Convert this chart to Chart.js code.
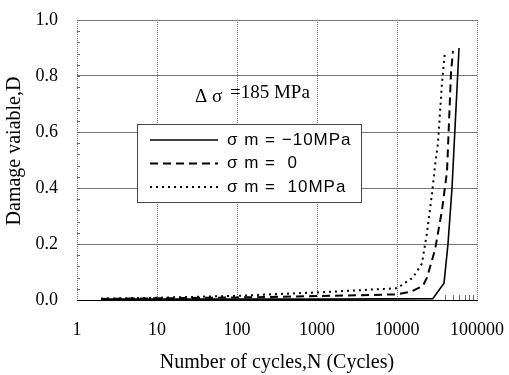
<!DOCTYPE html>
<html>
<head>
<meta charset="utf-8">
<script src="https://cdn.jsdelivr.net/npm/chart.js@4"></script>
<style>
  body { margin: 0; background: #fff; }
</style>
</head>
<body>
<canvas id="chart" width="509" height="375"></canvas>
<script>
// Damage variable vs number of cycles, three mean stresses
const seriesLabels = ["σ m = −10MPa", "σ m =  0", "σ m =  10MPa"]

const cyclesNeg10 = [2, 10, 100, 1000, 10000, 28000, 38700, 43400, 48700, 59600]
const damageNeg10 = [0.003, 0.003, 0.003, 0.003, 0.004, 0.005, 0.06, 0.2, 0.4, 0.9]

const cyclesZero = [2, 10, 100, 1000, 10000, 15000, 21000, 23700, 29900, 36500, 42200, 47300, 50100]
const damageZero = [0.004, 0.006, 0.009, 0.014, 0.02, 0.03, 0.05, 0.08, 0.18, 0.32, 0.46, 0.81, 0.89]

const cyclesPos10 = [2, 10, 100, 1000, 10000, 15800, 20500, 23700, 27400, 29900, 32500, 36500, 39800]
const damagePos10 = [0.005, 0.008, 0.015, 0.027, 0.042, 0.08, 0.13, 0.24, 0.38, 0.48, 0.56, 0.775, 0.89]

const xTickValues = [1, 10, 100, 1000, 10000, 100000]
const xTickLabels = ["1", "10", "100", "1000", "10000", "100000"]
const yTickLabels = ["0.0", "0.2", "0.4", "0.6", "0.8", "1.0"]
const yTitle = "Damage vaiable,D"

const toPoints = (xs, ys) => xs.map((x, i) => ({x: x, y: ys[i]}))

// legend box, stress range note, y title and minor ticks
const extrasPlugin = {
    id: "extras",
    afterDatasetsDraw(chart) {
        const ctx = chart.ctx
        const xs = chart.scales.x
        const ys = chart.scales.y
        ctx.save()
        // minor ticks on left axis
        ctx.strokeStyle = "#666"
        ctx.lineWidth = 1
        for (let v = 0.04; v < 1; v += 0.04) {
            const y = Math.round(ys.getPixelForValue(v)) + 0.5
            ctx.beginPath()
            ctx.moveTo(xs.left, y)
            ctx.lineTo(xs.left + 3, y)
            ctx.stroke()
        }
        // minor ticks on bottom axis near the right end
        for (let v = 40000; v < 100000; v += 10000) {
            const x = Math.round(xs.getPixelForValue(v)) + 0.5
            ctx.beginPath()
            ctx.moveTo(x, ys.bottom)
            ctx.lineTo(x, ys.bottom - 5)
            ctx.stroke()
        }
        // y title
        ctx.fillStyle = "#000"
        ctx.textBaseline = "middle"
        ctx.textAlign = "center"
        ctx.font = "20px 'Liberation Serif'"
        ctx.translate(15, 151)
        ctx.rotate(-Math.PI / 2)
        ctx.fillText(yTitle, 0, 0)
        ctx.setTransform(1, 0, 0, 1, 0, 0)
        ctx.textAlign = "left"
        // note
        ctx.font = "19px 'Liberation Serif'"
        ctx.fillText("Δ σ", 195, 97)
        ctx.fillText("=185 MPa", 230, 93)
        // legend
        const bx = 137, by = 124, bw = 224, bh = 78
        ctx.fillStyle = "#fff"
        ctx.fillRect(bx, by, bw, bh)
        ctx.strokeStyle = "#444"
        ctx.strokeRect(bx + 0.5, by + 0.5, bw, bh)
        chart.data.datasets.forEach((ds, i) => {
            const y = 140 + i * 23.5
            ctx.strokeStyle = "#000"
            ctx.lineWidth = ds.borderWidth
            ctx.setLineDash(ds.borderDash || [])
            ctx.beginPath()
            ctx.moveTo(150, y)
            ctx.lineTo(218, y)
            ctx.stroke()
            ctx.setLineDash([])
            ctx.fillStyle = "#000"
            ctx.font = "17px 'Liberation Sans'"
            ctx.letterSpacing = "1px"
            ctx.fillText(ds.label, 227, y)
            ctx.letterSpacing = "0px"
        })
        ctx.restore()
    }
}

const ctx = document.getElementById("chart").getContext("2d")
new Chart(ctx, {
    type: "line",
    data: {
        datasets: [
            {
                label: seriesLabels[0],
                data: toPoints(cyclesNeg10, damageNeg10),
                borderColor: "#000",
                borderWidth: 1.6,
                pointRadius: 0
            },
            {
                label: seriesLabels[1],
                data: toPoints(cyclesZero, damageZero),
                borderColor: "#000",
                borderWidth: 2,
                borderDash: [8, 5],
                pointRadius: 0
            },
            {
                label: seriesLabels[2],
                data: toPoints(cyclesPos10, damagePos10),
                borderColor: "#000",
                borderWidth: 2,
                borderDash: [2, 4],
                pointRadius: 0
            }
        ]
    },
    options: {
        responsive: false,
        animation: false,
        layout: {padding: {top: 20, right: 32, left: 0, bottom: 0}},
        scales: {
            x: {
                type: "logarithmic",
                min: 1,
                max: 100000,
                afterBuildTicks: s => { s.ticks = xTickValues.map(v => ({value: v})) },
                afterFit: s => { s.height = 75 },
                ticks: {
                    padding: 0,
                    color: "#000",
                    font: {family: "'Liberation Serif'", size: 18},
                    maxRotation: 0,
                    autoSkip: false,
                    callback: (v, i) => xTickLabels[i]
                },
                grid: {color: "#777", lineWidth: 1, drawTicks: true, tickLength: 19, tickColor: "rgba(0,0,0,0)"},
                border: {display: true, color: "#000", width: 1, dash: [1, 1]},
                title: {
                    display: true,
                    text: "Number of cycles,N (Cycles)",
                    color: "#000",
                    font: {family: "'Liberation Serif'", size: 20},
                    padding: {top: 0, bottom: 0}
                }
            },
            y: {
                min: 0,
                max: 1,
                afterFit: s => { s.width = 77 },
                ticks: {
                    stepSize: 0.2,
                    padding: 0,
                    color: "#000",
                    font: {family: "'Liberation Serif'", size: 18},
                    callback: (v, i) => yTickLabels[i]
                },
                grid: {color: "#777", lineWidth: 1, drawTicks: true, tickLength: 19, tickColor: "rgba(0,0,0,0)"},
                border: {display: false}
            }
        },
        plugins: {
            legend: {display: false},
            tooltip: {enabled: false}
        }
    },
    plugins: [extrasPlugin]
})
</script>
</body>
</html>
